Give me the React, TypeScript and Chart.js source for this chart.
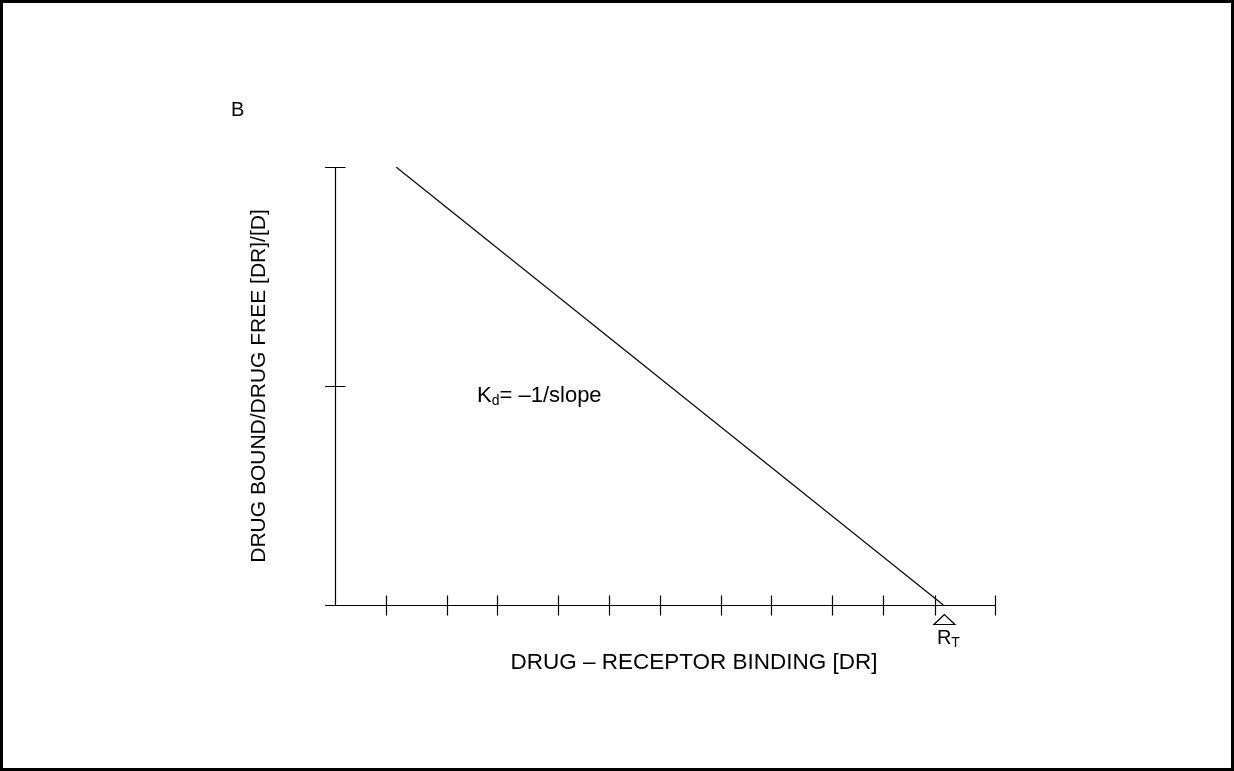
import React, { useEffect, useRef } from "react";
import { Chart, registerables } from "chart.js";

Chart.register(...registerables);

// ---- data ----
const xTickValues = [0.93, 2.04, 2.95, 4.06, 4.99, 5.91, 7.02, 7.93, 9.04, 9.97, 10.9, 12];
const yTickValues = [0, 1, 2];
const lineX = [1.11, 11.06];
const lineY = [2, 0];
const rtValue = 11.08;
const panelLabel = "B";
const xTitle = "DRUG – RECEPTOR BINDING [DR]";
const yTitle = "DRUG BOUND/DRUG FREE [DR]/[D]";

const FONT = "'Liberation Sans', Arial, sans-serif";

const annotPlugin = {
  id: "annot",
  afterDraw(chart: any) {
    const ctx: CanvasRenderingContext2D = chart.ctx;
    const xs = chart.scales.x;
    const ys = chart.scales.y;
    const px = (v: number) => Math.round(xs.getPixelForValue(v)) + 0.5;
    const py = (v: number) => Math.round(ys.getPixelForValue(v)) + 0.5;
    ctx.save();
    ctx.strokeStyle = "#000";
    ctx.fillStyle = "#000";

    // frame
    ctx.lineWidth = 3;
    ctx.strokeRect(1.5, 1.5, chart.width - 3, chart.height - 3);

    ctx.lineWidth = 1.2;
    const x0 = px(0);
    const y0 = py(0);
    const tick = 10;
    // y axis
    ctx.beginPath();
    ctx.moveTo(x0, py(yTickValues[yTickValues.length - 1]));
    ctx.lineTo(x0, y0);
    yTickValues.forEach((v) => {
      ctx.moveTo(x0 - tick - 0.5, py(v));
      ctx.lineTo(x0 + tick, py(v));
    });
    // x axis
    ctx.moveTo(x0 - tick - 0.5, y0);
    ctx.lineTo(px(xs.max), y0);
    xTickValues.forEach((v) => {
      ctx.moveTo(px(v), y0 - tick);
      ctx.lineTo(px(v), y0 + tick);
    });
    ctx.stroke();

    // R_T triangle marker
    const tx = xs.getPixelForValue(rtValue);
    ctx.lineWidth = 1.2;
    ctx.beginPath();
    ctx.moveTo(tx, y0 + 9);
    ctx.lineTo(tx - 10.5, y0 + 19);
    ctx.lineTo(tx + 10.5, y0 + 19);
    ctx.closePath();
    ctx.stroke();

    // texts
    ctx.textBaseline = "alphabetic";
    ctx.textAlign = "left";
    ctx.font = `20px ${FONT}`;
    ctx.fillText(panelLabel, 231, 116);

    // R_T
    ctx.font = `20px ${FONT}`;
    ctx.fillText("R", tx - 7.5, 644);
    const rw = ctx.measureText("R").width;
    ctx.font = `14px ${FONT}`;
    ctx.fillText("T", tx - 7.5 + rw, 647);

    // K_d label
    ctx.font = `22px ${FONT}`;
    ctx.fillText("K", 477, 402);
    const kw = ctx.measureText("K").width;
    ctx.font = `14px ${FONT}`;
    ctx.fillText("d", 477 + kw, 405);
    const dw = ctx.measureText("d").width;
    ctx.font = `22px ${FONT}`;
    ctx.fillText("= –1/slope", 477 + kw + dw, 402);

    // x title
    ctx.textAlign = "center";
    ctx.font = `22.5px ${FONT}`;
    ctx.fillText(xTitle, 694, 669);

    // y title
    ctx.save();
    ctx.font = `21px ${FONT}`;
    ctx.translate(265, 386);
    ctx.rotate(-Math.PI / 2);
    ctx.fillText(yTitle, 0, 0);
    ctx.restore();

    ctx.restore();
  },
};

export default function App() {
  const ref = useRef<HTMLCanvasElement | null>(null);
  useEffect(() => {
    document.body.style.margin = "0";
    const canvas = ref.current!;
    const chart = new Chart(canvas, {
      type: "scatter",
      data: {
        datasets: [
          {
            data: lineX.map((x, i) => ({ x, y: lineY[i] })),
            showLine: true,
            borderColor: "#000",
            borderWidth: 1.2,
            pointRadius: 0,
            fill: false,
          },
        ],
      },
      options: {
        animation: false,
        responsive: false,
        maintainAspectRatio: false,
        devicePixelRatio: 1,
        layout: { padding: { left: 335, right: 239, top: 167, bottom: 166 } },
        plugins: { legend: { display: false }, tooltip: { enabled: false } },
        scales: {
          x: { type: "linear", min: 0, max: 12, display: false },
          y: { type: "linear", min: 0, max: 2, display: false },
        },
      },
      plugins: [annotPlugin],
    });
    return () => chart.destroy();
  }, []);
  return (
    <div style={{ position: "fixed", left: 0, top: 0, width: 1234, height: 771, background: "#fff" }}>
      <canvas ref={ref} width={1234} height={771} style={{ display: "block", width: 1234, height: 771 }} />
    </div>
  );
}
